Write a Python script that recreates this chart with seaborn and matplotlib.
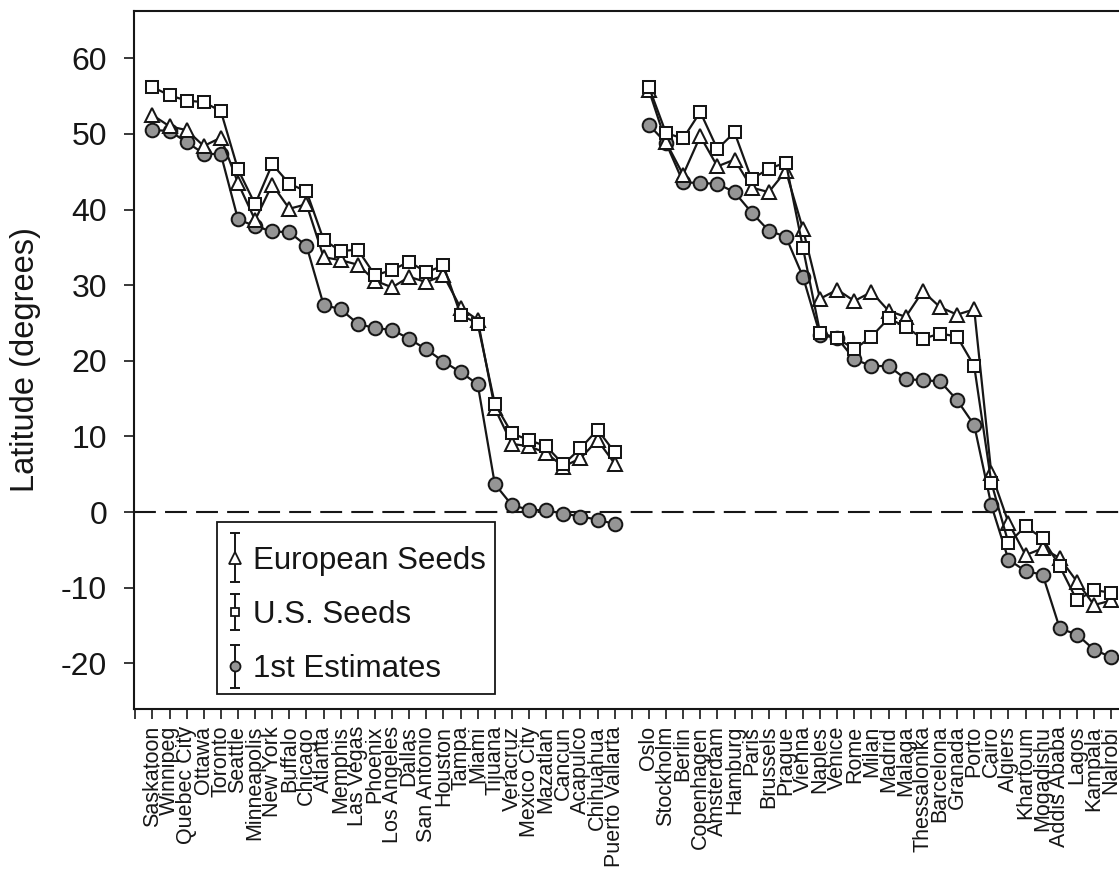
import numpy as np
import pandas as pd
import matplotlib
matplotlib.use("Agg")
import matplotlib.pyplot as plt
import seaborn as sns
from matplotlib.lines import Line2D
from matplotlib.collections import LineCollection
from matplotlib.container import ErrorbarContainer
from matplotlib.legend_handler import HandlerErrorbar
from matplotlib.patches import Rectangle
from matplotlib.transforms import IdentityTransform

# ---------------- data ----------------
cities_na = ["Saskatoon", "Winnipeg", "Quebec City", "Ottawa", "Toronto", "Seattle",
             "Minneapolis", "New York", "Buffalo", "Chicago", "Atlanta", "Memphis",
             "Las Vegas", "Phoenix", "Los Angeles", "Dallas", "San Antonio", "Houston",
             "Tampa", "Miami", "Tijuana", "Veracruz", "Mexico City", "Mazatlan",
             "Cancun", "Acapulco", "Chihuahua", "Puerto Vallarta"]
cities_eu = ["Oslo", "Stockholm", "Berlin", "Copenhagen", "Amsterdam", "Hamburg",
             "Paris", "Brussels", "Prague", "Vienna", "Naples", "Venice", "Rome",
             "Milan", "Madrid", "Malaga", "Thessalonika", "Barcelona", "Granada",
             "Porto", "Cairo", "Algiers", "Khartoum", "Mogadishu", "Addis Ababa",
             "Lagos", "Kampala", "Nairobi"]

european_na = [52.5, 51.0, 50.5, 48.4, 49.5, 43.5, 38.6, 43.3, 40.1, 40.7, 33.7, 33.3,
               32.7, 30.6, 29.7, 31.1, 30.4, 31.3, 27.0, 25.4, 13.7, 9.0, 8.7, 7.8,
               6.0, 7.1, 9.5, 6.4]
us_na = [56.2, 55.1, 54.4, 54.2, 53.0, 45.3, 40.7, 46.0, 43.4, 42.4, 36.0, 34.5,
         34.7, 31.3, 32.0, 33.1, 31.7, 32.6, 26.1, 24.9, 14.3, 10.4, 9.5, 8.7,
         6.3, 8.4, 10.9, 7.9]
first_na = [50.5, 50.4, 48.9, 47.4, 47.3, 38.7, 37.8, 37.1, 37.0, 35.2, 27.4, 26.8,
            24.9, 24.3, 24.1, 22.9, 21.5, 19.9, 18.5, 16.9, 3.7, 0.9, 0.3, 0.2,
            -0.2, -0.6, -1.0, -1.6]

european_eu = [55.8, 48.9, 44.6, 49.7, 45.7, 46.6, 42.9, 42.3, 45.1, 37.4, 28.2, 29.4,
               27.9, 29.1, 26.6, 25.8, 29.2, 27.1, 26.1, 26.8, 5.1, -1.4, -5.7, -4.8,
               -6.1, -9.2, -12.3, -11.7]
us_eu = [56.2, 50.1, 49.4, 52.9, 48.0, 50.2, 44.0, 45.4, 46.2, 34.9, 23.7, 23.0,
         21.5, 23.2, 25.6, 24.5, 22.9, 23.6, 23.2, 19.3, 3.9, -4.1, -1.9, -3.5,
         -7.2, -11.7, -10.3, -10.7]
first_eu = [51.2, 48.8, 43.6, 43.5, 43.4, 42.3, 39.6, 37.2, 36.4, 31.1, 23.4, 23.0,
            20.2, 19.3, 19.3, 17.6, 17.4, 17.3, 14.8, 11.5, 0.9, -6.3, -7.8, -8.3,
            -15.4, -16.2, -18.2, -19.2]

series_names = ["European Seeds", "U.S. Seeds", "1st Estimates"]
yticks = [60, 50, 40, 30, 20, 10, 0, -10, -20]

# ---------------- style ----------------
sns.set_style("ticks")
plt.rcParams["font.family"] = ["Liberation Sans", "DejaVu Sans"]
plt.rcParams["axes.unicode_minus"] = False
ink = "#161616"
plt.rcParams["text.color"] = ink

x_na = np.arange(len(cities_na))
x_eu = np.arange(len(cities_eu)) + len(cities_na) + 1

rows = []
for region, xs, names, vals in (
        ("na", x_na, cities_na, {"European Seeds": european_na, "U.S. Seeds": us_na,
                                 "1st Estimates": first_na}),
        ("eu", x_eu, cities_eu, {"European Seeds": european_eu, "U.S. Seeds": us_eu,
                                 "1st Estimates": first_eu})):
    for s, v in vals.items():
        for xi, c, yi in zip(xs, names, v):
            rows.append({"region": region, "slot": xi, "city": c, "series": s, "lat": yi})
df = pd.DataFrame(rows)

styles = {
    "European Seeds": dict(marker="^", ms=10.0, mfc="white", lms=8.0, yerr=0.78, z=3),
    "U.S. Seeds": dict(marker="s", ms=9.3, mfc="white", lms=5.5, yerr=0.58, z=4),
    "1st Estimates": dict(marker="o", ms=9.8, mfc="#959595", lms=7.2, yerr=0.70, z=2),
}

fig = plt.figure(figsize=(11.19, 8.71), dpi=100)
ax = fig.add_axes([0.11966, 0.18599, 0.8917, 0.80138])

ax.axhline(0, color=ink, lw=1.5, ls=(0, (10.5, 4.4)), zorder=1)

for s in ["1st Estimates", "European Seeds", "U.S. Seeds"]:
    st = styles[s]
    for region in ["na", "eu"]:
        sub = df[(df.series == s) & (df.region == region)]
        sns.lineplot(data=sub, x="slot", y="lat", ax=ax, estimator=None, sort=False,
                     color=ink, linewidth=1.6, marker=st["marker"], markersize=st["ms"],
                     markerfacecolor=st["mfc"], markeredgecolor=ink, markeredgewidth=1.45,
                     zorder=st["z"], legend=False)

# axes
tick_pos = [-1] + list(x_na) + [len(cities_na)] + list(x_eu)
tick_lab = [""] + cities_na + [""] + cities_eu
ax.set_xticks(tick_pos)
ax.set_xticklabels(tick_lab, rotation=90, fontsize=15.5)
ax.set_xlim(-1.08, 57.2)
ax.set_ylim(-26.05, 66.25)
ax.set_yticks(yticks)
ax.set_yticklabels([str(t) for t in yticks], fontsize=23)
ax.tick_params(axis="y", length=7.2, width=1.2, pad=12, colors=ink, direction="out", left=True)
ax.tick_params(axis="x", length=7.2, width=1.2, pad=5, colors=ink, direction="out", bottom=True)
ax.set_xlabel("")
ax.set_ylabel("Latitude (degrees)", fontsize=23.5, color=ink)
ax.yaxis.set_label_coords(-0.0935, 0.5)
for sp in ax.spines.values():
    sp.set_linewidth(1.5)
    sp.set_color(ink)

# legend with error-bar style handles
handles = []
hmap = {}
for s in series_names:
    st = styles[s]
    pl = Line2D([], [], linestyle="none", marker=st["marker"], markersize=st["lms"],
                markerfacecolor=st["mfc"], markeredgecolor=ink, markeredgewidth=1.3,
                color=ink)
    cap = Line2D([], [], linestyle="none", marker="_", markersize=6.5,
                 markeredgewidth=1.4, color=ink)
    bar = LineCollection([], colors=ink, linewidths=1.4)
    h = ErrorbarContainer((pl, (cap, cap), (bar,)), has_xerr=False, has_yerr=True, label=s)
    handles.append(h)
    hmap[h] = HandlerErrorbar(yerr_size=st["yerr"], numpoints=1)

leg = ax.legend(handles=handles, labels=series_names, handler_map=hmap,
                loc="upper left", bbox_to_anchor=(0.0835, 0.2475), borderaxespad=0,
                fontsize=22.5, frameon=False,
                borderpad=0.3, handlelength=0.55, handletextpad=0.3, labelspacing=0.78,
                numpoints=1)
leg.set_zorder(6)

# frame around the legend, with extra room on top as in the original
fig.canvas.draw()
bb = leg.get_window_extent()
extra_top = 14
frame = Rectangle((bb.x0, bb.y0), bb.width, bb.height + extra_top,
                  transform=IdentityTransform(), facecolor="white", edgecolor=ink,
                  linewidth=1.3, zorder=5.5, clip_on=False)
ax.add_artist(frame)

fig.savefig("out.png", dpi=100, facecolor="white")
